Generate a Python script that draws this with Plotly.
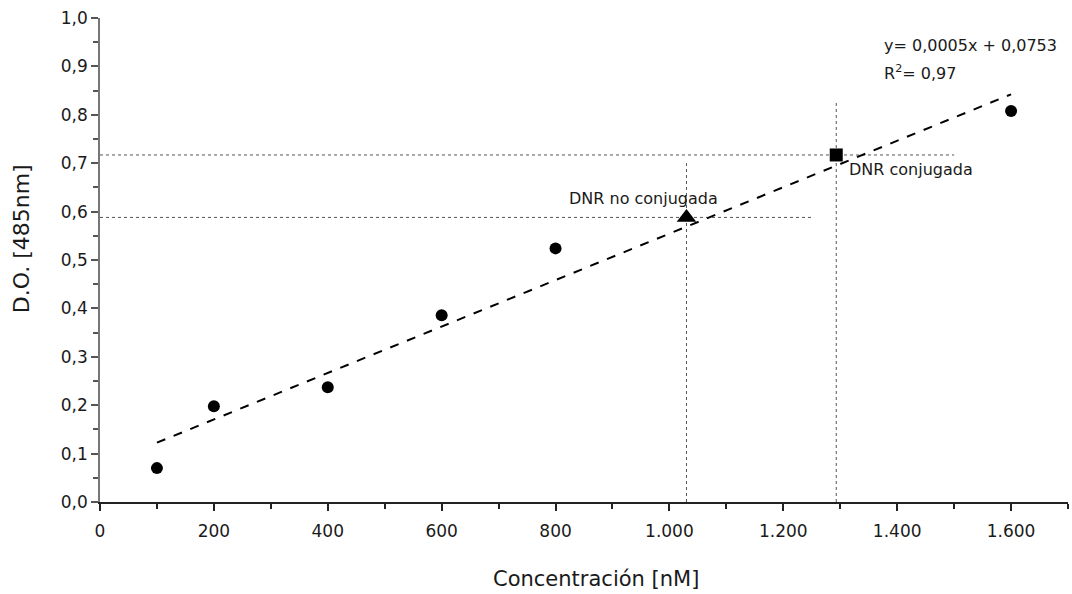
import numpy as np
import plotly.graph_objects as go

# Calibration standards: concentration (nM) vs optical density at 485 nm
conc = [100, 200, 400, 600, 800, 1600]
od = [0.070, 0.198, 0.237, 0.386, 0.524, 0.808]

# Samples read against the calibration curve
free_conc, free_od = [1030], [0.588]        # DNR no conjugada
conj_conc, conj_od = [1293], [0.717]        # DNR conjugada

x_ticks = [0, 200, 400, 600, 800, 1000, 1200, 1400, 1600]
x_labels = ["0", "200", "400", "600", "800", "1.000", "1.200", "1.400", "1.600"]
y_ticks = [0.0, 0.1, 0.2, 0.3, 0.4, 0.5, 0.6, 0.7, 0.8, 0.9, 1.0]
y_labels = ["0,0", "0,1", "0,2", "0,3", "0,4", "0,5", "0,6", "0,7", "0,8", "0,9", "1,0"]

# Linear least-squares fit of the standards
slope, intercept = np.polyfit(conc, od, 1)
fit_x = np.array([conc[0], conc[-1]])
fit_y = slope * fit_x + intercept

FONT = "DejaVu Sans"
INK = "#1a1a1a"
GUIDE = dict(color="#555555", width=1, dash="dot")

fig = go.Figure()

# Read-off guides for the two samples
fig.add_trace(go.Scatter(x=[0, 1250], y=[free_od[0]] * 2, mode="lines", line=GUIDE,
                         hoverinfo="skip", showlegend=False))
fig.add_trace(go.Scatter(x=[free_conc[0]] * 2, y=[0, 0.70], mode="lines", line=GUIDE,
                         hoverinfo="skip", showlegend=False))
fig.add_trace(go.Scatter(x=[0, 1500], y=[conj_od[0]] * 2, mode="lines", line=GUIDE,
                         hoverinfo="skip", showlegend=False))
fig.add_trace(go.Scatter(x=[conj_conc[0]] * 2, y=[0, 0.825], mode="lines", line=GUIDE,
                         hoverinfo="skip", showlegend=False))

# Fitted line
fig.add_trace(go.Scatter(x=fit_x, y=fit_y, mode="lines",
                         line=dict(color="black", width=2, dash="dash"), showlegend=False))

# Standards and samples
fig.add_trace(go.Scatter(x=conc, y=od, mode="markers",
                         marker=dict(symbol="circle", size=12, color="black"), showlegend=False))
fig.add_trace(go.Scatter(x=free_conc, y=free_od, mode="markers",
                         marker=dict(symbol="triangle-up", size=17, color="black"), showlegend=False))
fig.add_trace(go.Scatter(x=conj_conc, y=conj_od, mode="markers",
                         marker=dict(symbol="square", size=13, color="black"), showlegend=False))

ann_font = dict(family=FONT, size=16, color=INK)
fig.add_annotation(x=954, y=0.628, text="DNR no conjugada", showarrow=False, font=ann_font,
                   xanchor="center", yanchor="middle")
fig.add_annotation(x=1311, y=0.686, text="DNR conjugada", showarrow=False, font=ann_font,
                   xanchor="left", yanchor="middle")
fig.add_annotation(x=1374, y=0.944, text="y= 0,0005x + 0,0753", showarrow=False, font=ann_font,
                   xanchor="left", yanchor="middle")
fig.add_annotation(x=1374, y=0.888, text="R<sup>2</sup>= 0,97", showarrow=False, font=ann_font,
                   xanchor="left", yanchor="middle")

# Axis titles
title_font = dict(family=FONT, size=21, color=INK)
fig.add_annotation(xref="paper", yref="paper", x=0.512, y=-0.159, text="Concentración [nM]",
                   showarrow=False, font=title_font, xanchor="center", yanchor="middle")
fig.add_annotation(xref="paper", yref="paper", x=-0.0816, y=0.543, text="D.O. [485nm]",
                   textangle=-90, showarrow=False, font=dict(family=FONT, size=22, color=INK),
                   xanchor="center", yanchor="middle")

axis_common = dict(
    showgrid=False, zeroline=False, showline=True, linewidth=1.5,
    ticks="outside", ticklen=7, tickwidth=1.5,
    tickfont=dict(family=FONT, size=17, color=INK),
)

fig.update_xaxes(
    range=[0, 1700], tickvals=x_ticks, ticktext=x_labels, ticklabelstandoff=6,
    linecolor="#222222", tickcolor="#222222",
    minor=dict(dtick=100, tick0=0, ticks="outside", ticklen=5, tickcolor="#222222", tickwidth=1.5),
    **axis_common,
)
fig.update_yaxes(
    range=[0, 1.0], tickvals=y_ticks, ticktext=y_labels,
    linecolor="#777777", tickcolor="#555555",
    minor=dict(dtick=0.05, tick0=0, ticks="outside", ticklen=5, tickcolor="#555555", tickwidth=1.5),
    **axis_common,
)

fig.update_layout(
    width=1072, height=594,
    margin=dict(l=100, r=4, t=18, b=92),
    paper_bgcolor="white", plot_bgcolor="white",
    font=dict(family=FONT),
)

fig.write_html("out.html")
